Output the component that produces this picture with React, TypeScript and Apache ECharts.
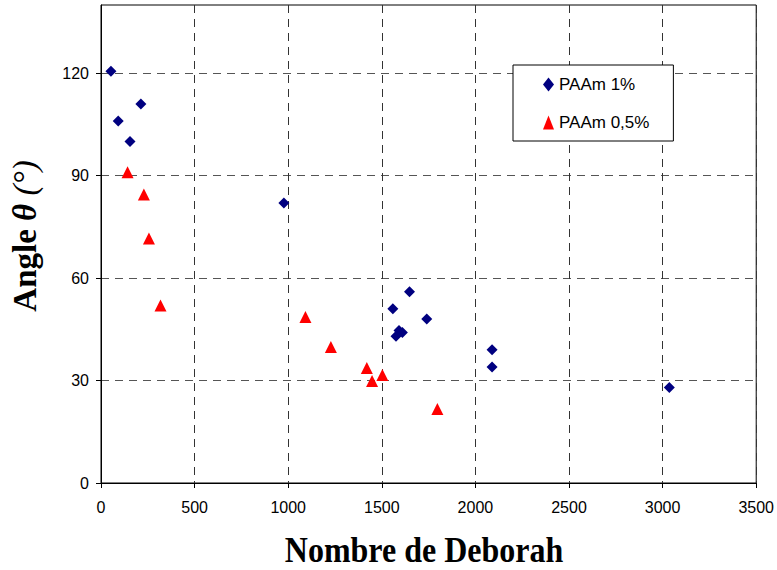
import React, { useEffect, useRef } from "react";
import * as echarts from "echarts";

const xTicks = [0, 500, 1000, 1500, 2000, 2500, 3000, 3500];
const yTicks = [0, 30, 60, 90, 120];

const paam1X = [53, 92, 155, 213, 977, 1559, 1576, 1592, 1610, 1648, 1740, 2089, 2089, 3036];
const paam1Y = [120.6, 106, 100, 111, 82, 51, 43, 44.7, 44.1, 56, 48, 39, 34, 28];

const paam05X = [142, 229, 256, 318, 1092, 1228, 1420, 1448, 1503, 1797];
const paam05Y = [91, 84.5, 71.6, 52, 48.6, 39.8, 33.7, 29.9, 31.6, 21.7];

const seriesNames = ["PAAm 1%", "PAAm 0,5%"];

export default function App() {
  const ref = useRef<HTMLDivElement>(null);
  useEffect(() => {
    if (!ref.current) return;
    const chart = echarts.init(ref.current, undefined, { renderer: "svg" });
    const tickFont = { fontFamily: "Liberation Sans, Arial, sans-serif", fontSize: 16, color: "#000" };
    const serif = "Liberation Serif, Times New Roman, serif";
    chart.setOption({
      animation: false,
      backgroundColor: "#fff",
      grid: {
        left: 101,
        top: 5,
        width: 656,
        height: 478,
        show: true,
        borderColor: "#000",
        borderWidth: 1,
        backgroundColor: "transparent",
      },
      xAxis: {
        type: "value",
        min: xTicks[0],
        max: xTicks[xTicks.length - 1],
        interval: 500,
        axisLine: { show: true, lineStyle: { color: "#000", width: 1 } },
        axisTick: { show: true, inside: false, length: 5, lineStyle: { color: "#000" } },
        axisLabel: { ...tickFont, margin: 16, formatter: (v: number) => String(v) },
        splitLine: { show: true, lineStyle: { color: "#333", type: [8, 6], width: 1 } },
      },
      yAxis: {
        type: "value",
        min: 0,
        max: 140,
        interval: 30,
        axisLine: { show: true, lineStyle: { color: "#000", width: 1 } },
        axisTick: { show: true, inside: false, length: 5, lineStyle: { color: "#000" }, customValues: yTicks },
        axisLabel: {
          ...tickFont,
          margin: 12,
          customValues: yTicks,
          formatter: (v: number) => (yTicks.includes(v) ? String(v) : ""),
        },
        splitLine: { show: true, lineStyle: { color: "#555", type: [8, 6], width: 1 } },
      },
      legend: {
        left: 513,
        top: 65,
        orient: "vertical",
        backgroundColor: "#fff",
        borderColor: "#000",
        borderWidth: 1,
        padding: [11, 24, 10, 30],
        itemWidth: 11,
        itemHeight: 14,
        itemGap: 21,
        textStyle: { fontFamily: "Liberation Sans, Arial, sans-serif", fontSize: 17, color: "#000" },
        data: seriesNames,
      },
      series: [
        {
          name: seriesNames[0],
          type: "scatter",
          symbol: "diamond",
          symbolSize: 11,
          itemStyle: { color: "#000080", opacity: 1 },
          data: paam1X.map((x, i) => [x, paam1Y[i]]),
        },
        {
          name: seriesNames[1],
          type: "scatter",
          symbol: "triangle",
          symbolSize: 12,
          itemStyle: { color: "#ff0000", opacity: 1 },
          data: paam05X.map((x, i) => [x, paam05Y[i]]),
        },
      ],
      graphic: [
        {
          type: "text",
          x: 424,
          y: 550,
          scaleY: 1.1,
          style: {
            text: "Nombre de Deborah",
            font: "bold 32px 'Liberation Serif', 'Times New Roman', serif",
            fill: "#000",
            align: "center",
            verticalAlign: "middle",
          },
        },
        {
          type: "text",
          x: 25,
          y: 236,
          rotation: Math.PI / 2,
          style: {
            text: "{a|Angle }{b|θ}{c| (°)}",
            align: "center",
            verticalAlign: "middle",
            rich: {
              a: { fontFamily: serif, fontWeight: "bold", fontSize: 33, fill: "#000" },
              b: { fontFamily: serif, fontWeight: "bold", fontStyle: "italic", fontSize: 33, fill: "#000" },
              c: { fontFamily: serif, fontStyle: "italic", fontSize: 33, fill: "#000" },
            },
          },
        },
      ],
    });
    return () => chart.dispose();
  }, []);
  return <div ref={ref} style={{ position: "fixed", left: 0, top: 0, width: 777, height: 570 }} />;
}
